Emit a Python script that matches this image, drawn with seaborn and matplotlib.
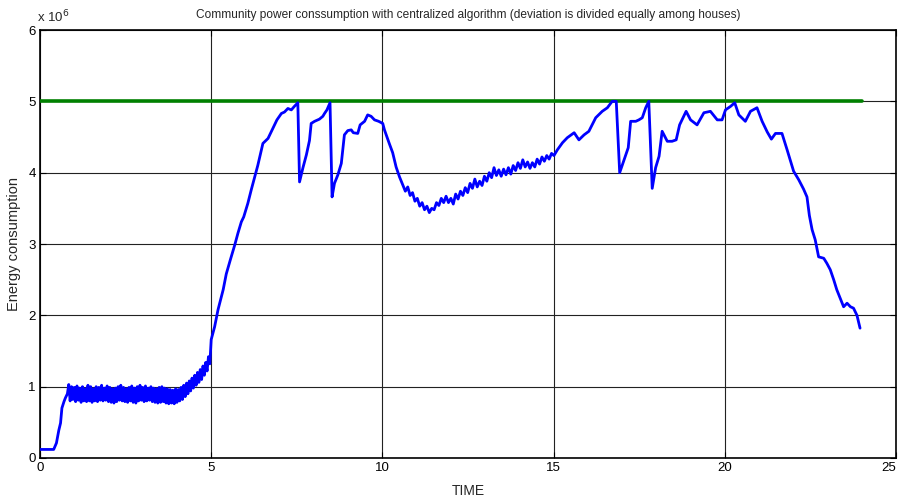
import matplotlib
matplotlib.use("Agg")
import matplotlib.pyplot as plt
import seaborn as sns
import pandas as pd
from matplotlib.ticker import FuncFormatter

# ---- data (energy in units of 1e6) ----
time_h = [
    0.00, 0.40, 0.48, 0.55, 0.60, 0.64, 0.70, 0.74, 0.80,
    0.84, 0.88, 0.92, 0.96, 1.00, 1.04, 1.08, 1.12, 1.16, 1.20,
    1.24, 1.28, 1.32, 1.36, 1.40, 1.44, 1.48, 1.52, 1.56, 1.60,
    1.64, 1.68, 1.72, 1.76, 1.80, 1.84, 1.88, 1.92, 1.96, 2.00,
    2.04, 2.08, 2.12, 2.16, 2.20, 2.24, 2.28, 2.32, 2.36, 2.40,
    2.44, 2.48, 2.52, 2.56, 2.60, 2.64, 2.68, 2.72, 2.76, 2.80,
    2.84, 2.88, 2.92, 2.96, 3.00, 3.04, 3.08, 3.12, 3.16, 3.20,
    3.24, 3.28, 3.32, 3.36, 3.40, 3.44, 3.48, 3.52, 3.56, 3.60,
    3.64, 3.68, 3.72, 3.76, 3.80, 3.84, 3.88, 3.92, 3.96, 4.00,
    4.04, 4.08,
    4.12, 4.16, 4.20, 4.24, 4.28, 4.32, 4.36, 4.40, 4.44, 4.48,
    4.52, 4.56, 4.60, 4.64, 4.68, 4.72, 4.76, 4.80, 4.84, 4.88,
    4.92, 4.96, 5.00,
    5.10, 5.20, 5.35, 5.44, 5.56, 5.69, 5.78, 5.88, 5.95, 6.07, 6.17, 6.27,
    6.36, 6.51, 6.66, 6.80, 6.92, 7.05, 7.14, 7.24, 7.34, 7.43, 7.53,
    7.58, 7.68, 7.78, 7.87, 7.92, 8.02, 8.16, 8.26, 8.31, 8.38, 8.47,
    8.53, 8.60, 8.70, 8.80, 8.89, 8.99, 9.09, 9.15, 9.28, 9.35, 9.48, 9.57,
    9.67, 9.77, 9.89, 10.01, 10.06, 10.20, 10.30, 10.40, 10.50,
    10.60, 10.67, 10.74, 10.81, 10.88, 10.95, 11.02, 11.09, 11.16, 11.23,
    11.30, 11.37, 11.44, 11.51, 11.58, 11.65, 11.72, 11.79, 11.86, 11.93,
    12.00, 12.07, 12.14, 12.21, 12.28, 12.35, 12.42, 12.49, 12.56, 12.63,
    12.70, 12.77, 12.84, 12.91, 12.98, 13.05, 13.12, 13.19, 13.26, 13.33,
    13.40, 13.47, 13.54, 13.61, 13.68, 13.75, 13.82, 13.89, 13.96, 14.03,
    14.10, 14.17, 14.24, 14.31, 14.38, 14.45, 14.52, 14.59, 14.66, 14.73,
    14.80, 14.87, 14.94, 15.01,
    15.11, 15.26, 15.40, 15.60, 15.74, 15.89, 16.03, 16.23, 16.42, 16.57,
    16.71, 16.83, 16.93, 17.06, 17.18, 17.25, 17.40, 17.49, 17.59, 17.69,
    17.78, 17.88, 17.98, 18.08, 18.17, 18.32, 18.46, 18.58, 18.68, 18.87,
    19.00, 19.19, 19.39, 19.58, 19.78, 19.92, 20.02, 20.17, 20.29, 20.41,
    20.60, 20.75, 20.94, 21.09, 21.24, 21.36, 21.48, 21.67, 21.82, 22.01,
    22.16, 22.30, 22.40, 22.47, 22.55, 22.64, 22.74, 22.89, 22.98, 23.08,
    23.18, 23.27, 23.37, 23.47, 23.57, 23.67, 23.76, 23.86, 23.95,
]
energy_m = [
    0.12, 0.12, 0.21, 0.39, 0.49, 0.70, 0.79, 0.84, 0.90,
    1.03, 0.80, 1.00, 0.82, 0.99, 0.79, 1.01, 0.81, 0.98, 0.78,
    1.00, 0.80, 0.97, 0.79, 1.02, 0.80, 1.00, 0.78, 0.97, 0.80,
    1.00, 0.79, 0.99, 0.81, 1.02, 0.80, 0.98, 0.81, 1.01, 0.79,
    0.99, 0.78, 0.97, 0.77, 0.98, 0.79, 1.00, 0.81, 1.02, 0.80,
    0.99, 0.79, 0.97, 0.78, 0.99, 0.80, 1.01, 0.78, 0.98, 0.77,
    1.00, 0.80, 1.02, 0.81, 0.99, 0.79, 1.01, 0.80, 0.98, 0.81,
    1.00, 0.79, 0.98, 0.78, 0.97, 0.77, 0.99, 0.78, 1.00, 0.79,
    0.98, 0.77, 0.97, 0.76, 0.96, 0.77, 0.95, 0.76, 0.97, 0.78,
    0.96, 0.80,
    0.99, 0.82, 1.02, 0.86, 1.05, 0.90, 1.08, 0.94, 1.12, 0.98,
    1.16, 1.02, 1.20, 1.06, 1.24, 1.10, 1.29, 1.16, 1.34, 1.22,
    1.42, 1.32, 1.66,
    1.84, 2.08, 2.36, 2.58, 2.78, 2.99, 3.15, 3.31, 3.38, 3.57, 3.76, 3.94,
    4.10, 4.41, 4.48, 4.62, 4.74, 4.83, 4.85, 4.90, 4.88, 4.93, 4.98,
    3.87, 4.07, 4.25, 4.45, 4.69, 4.72, 4.75, 4.79, 4.83, 4.88, 4.98,
    3.66, 3.85, 3.97, 4.13, 4.53, 4.59, 4.60, 4.56, 4.55, 4.67, 4.72, 4.81,
    4.79, 4.74, 4.72, 4.69, 4.60, 4.41, 4.28, 4.08, 3.94,
    3.82, 3.74, 3.80, 3.68, 3.72, 3.60, 3.64, 3.53, 3.58, 3.48,
    3.53, 3.44, 3.50, 3.48, 3.58, 3.54, 3.64, 3.58, 3.67, 3.58,
    3.64, 3.56, 3.70, 3.63, 3.74, 3.68, 3.79, 3.72, 3.85, 3.78,
    3.91, 3.80, 3.88, 3.82, 3.95, 3.88, 4.00, 3.93, 4.07, 3.96,
    4.04, 3.95, 4.05, 3.97, 4.07, 3.98, 4.10, 4.03, 4.14, 4.06,
    4.18, 4.08, 4.15, 4.06, 4.14, 4.08, 4.19, 4.12, 4.22, 4.16,
    4.24, 4.19, 4.27, 4.24,
    4.32, 4.42, 4.49, 4.56, 4.46, 4.53, 4.58, 4.77, 4.86, 4.91,
    5.00, 5.00, 4.00, 4.18, 4.35, 4.72, 4.72, 4.74, 4.77, 4.91,
    5.00, 3.78, 4.07, 4.23, 4.58, 4.44, 4.44, 4.46, 4.67, 4.86,
    4.74, 4.67, 4.84, 4.86, 4.74, 4.74, 4.88, 4.93, 4.98, 4.81,
    4.72, 4.86, 4.91, 4.72, 4.57, 4.47, 4.55, 4.55, 4.32, 4.02,
    3.90, 3.77, 3.66, 3.40, 3.20, 3.06, 2.82, 2.80, 2.73, 2.64,
    2.50, 2.36, 2.24, 2.12, 2.17, 2.12, 2.10, 2.00, 1.82,
]
limit_time = [0.0, 24.0]
limit_m = [5.0, 5.0]
x_ticks = [0, 5, 10, 15, 20, 25]
y_ticks = [0, 1, 2, 3, 4, 5, 6]
SCALE = 1e6

df = pd.DataFrame({"time": time_h, "energy": [v * SCALE for v in energy_m]})
lim = pd.DataFrame({"time": limit_time, "energy": [v * SCALE for v in limit_m]})

sns.set_style("white")
plt.rcParams["font.family"] = ["Liberation Sans", "DejaVu Sans"]

fig = plt.figure(figsize=(9.02, 4.99), dpi=100)
ax = fig.add_axes([40 / 902, 1 - 458 / 499, 856 / 902, 428 / 499])

sns.lineplot(data=lim, x="time", y="energy", ax=ax, color="#008000",
             linewidth=2.6, estimator=None, sort=False, zorder=3)
sns.lineplot(data=df, x="time", y="energy", ax=ax, color="#0000FF",
             linewidth=2.0, estimator=None, sort=False, zorder=4)

ax.set_xlim(0, 25)
ax.set_ylim(0, 6 * SCALE)
ax.set_xticks(x_ticks)
ax.set_yticks([t * SCALE for t in y_ticks])
ax.yaxis.set_major_formatter(FuncFormatter(lambda v, p: f"{v / SCALE:g}"))
ax.grid(True, color="#222222", linewidth=0.8, linestyle="-")
ax.set_axisbelow(True)
ax.tick_params(direction="in", length=4, labelsize=9.5, colors="black",
               top=True, right=True, left=True, bottom=True, pad=3)
for s in ax.spines.values():
    s.set_visible(True)
    s.set_color("black")
    s.set_linewidth(1.2)
# keep the last x tick label inside the figure
ax.get_xticklabels()[-1].set_horizontalalignment("right")

ax.set_xlabel("TIME", fontsize=10, labelpad=7)
ax.set_ylabel("Energy consumption", fontsize=10.5)
ax.yaxis.set_label_coords(-0.022, 0.5)
ax.set_title("Community power conssumption with centralized algorithm "
             "(deviation is divided equally among houses)", fontsize=8.6, pad=9)
ax.text(-0.004, 1.012, "x 10$^{6}$", transform=ax.transAxes, fontsize=9.5,
        ha="left", va="bottom")

fig.savefig("out.png", dpi=100, facecolor="white")
